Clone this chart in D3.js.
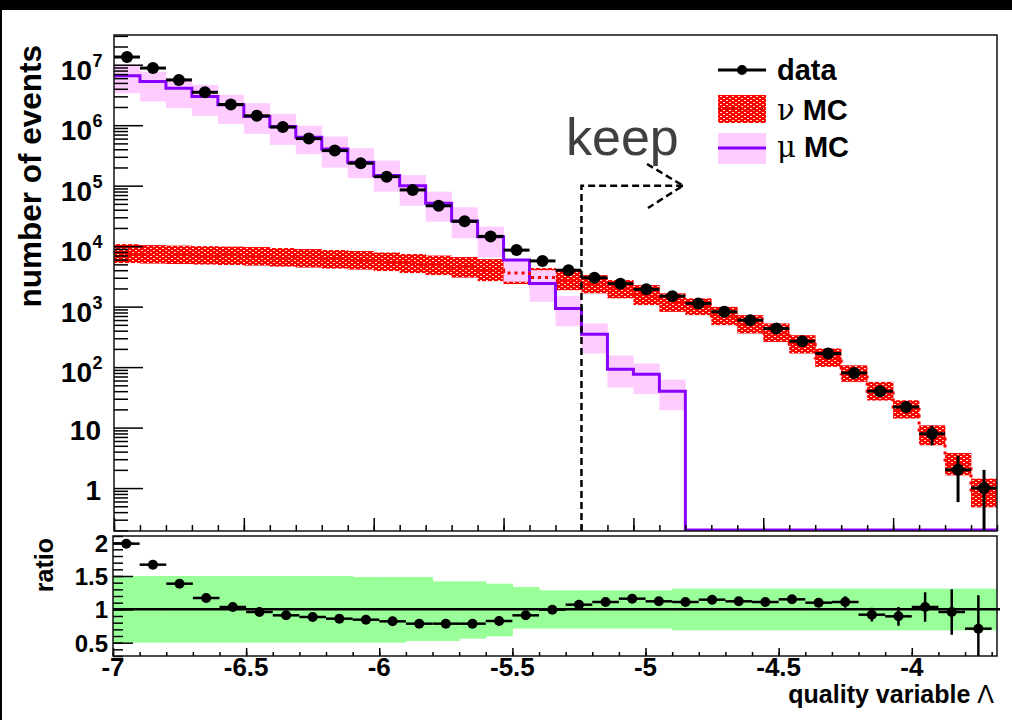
<!DOCTYPE html>
<html><head><meta charset="utf-8">
<script src="https://cdn.jsdelivr.net/npm/d3@7/dist/d3.min.js"></script>
<style>
html,body{margin:0;padding:0;background:#fff;}
svg{display:block;}
text{font-family:"Liberation Sans",Arial,Helvetica,sans-serif;}
</style></head>
<body>
<script>
// ---------------- data ----------------
const binCenters = [-6.95,-6.85,-6.75,-6.65,-6.55,-6.45,-6.35,-6.25,-6.15,-6.05,-5.95,-5.85,-5.75,-5.65,-5.55,-5.45,-5.35,-5.25,-5.15,-5.05,-4.95,-4.85,-4.75,-4.65,-4.55,-4.45,-4.35,-4.25,-4.15,-4.05,-3.95,-3.85,-3.75,-3.65];
const binWidth = 0.1;

const dataCounts = [1.34e7,8.8e6,5.6e6,3.5e6,2.2e6,1.43e6,9.3e5,6.0e5,3.8e5,2.35e5,1.41e5,8.5e4,4.65e4,2.57e4,1.45e4,8.6e3,5.7e3,4.0e3,3.0e3,2.4e3,1.93e3,1.49e3,1.13e3,820,597,435,268,168,80,40,21.9,7.9,2.0,1.0];

const muMC   = [6.6e6,5.27e6,4.1e6,2.98e6,2.17e6,1.39e6,9.5e5,6.3e5,4.05e5,2.44e5,1.47e5,1.0e5,5.1e4,2.6e4,1.43e4,5.9e3,2.42e3,933,351,92,76,40,0,0,0,0,0,0,0,0,0,0,0,0];
const muLo   = [3.39e6,2.46e6,1.91e6,1.43e6,1.05e6,7.2e5,4.72e5,3.31e5,1.99e5,1.33e5,7.96e4,4.67e4,2.54e4,1.35e4,6.5e3,2.58e3,1.2e3,475,168,46,36,19.3];
const muHi   = [9.95e6,7.7e6,6.0e6,4.65e6,3.18e6,2.31e6,1.54e6,9.8e5,6.5e5,4.16e5,2.6e5,1.5e5,7.96e4,4.39e4,2.1e4,5.9e3,4.0e3,1.49e3,527,155,115,62];

const nuMC   = [7530,7320,7180,7040,6930,6790,6530,6290,6060,5830,5510,5150,4820,4460,4020,3590,3020,2740,2350,1940,1550,1170,995,700,510,371,238,143,78,40,20,7.5,2.5,0.83];
const nuLo   = [5250,5150,5060,4960,4870,4770,4590,4420,4260,4100,3870,3590,3320,3020,2640,2360,2100,1870,1660,1370,1060,820,723,494,360,261,168,101,57,28,14.1,5.1,1.62,0.48];
const nuHi   = [10800,10400,10200,10000,9850,9660,9300,8950,8620,8300,7840,7400,6990,6600,6110,5450,4340,4020,3320,2750,2270,1660,1370,993,723,527,337,203,107,57,28.3,10.9,3.8,1.43];

const ratioVals = [1.985,1.67,1.385,1.17,1.035,0.96,0.91,0.885,0.86,0.845,0.82,0.785,0.785,0.785,0.825,0.91,0.995,1.07,1.11,1.16,1.12,1.11,1.145,1.12,1.11,1.15,1.10,1.11,0.92,0.895,1.035,0.96,0.71];
const greenHi = [1.5,1.5,1.5,1.5,1.5,1.5,1.5,1.5,1.5,1.485,1.485,1.485,1.42,1.42,1.385,1.335,1.285,1.285,1.285,1.285,1.285,1.31,1.31,1.31,1.31,1.31,1.31,1.31,1.31,1.31,1.31,1.31,1.31,1.31];
const greenLo = [0.5,0.5,0.5,0.5,0.5,0.5,0.5,0.5,0.5,0.5,0.5,0.525,0.525,0.56,0.595,0.71,0.71,0.71,0.71,0.71,0.71,0.685,0.685,0.685,0.685,0.685,0.685,0.685,0.685,0.685,0.685,0.685,0.685,0.685];

const yDecades = [1,10,100,1e3,1e4,1e5,1e6,1e7];
const yDecadeLabels = [["1",""],["10",""],["10","2"],["10","3"],["10","4"],["10","5"],["10","6"],["10","7"]];
const ratioTicks = [0.5,1,1.5,2];
const ratioTickLabels = ["0.5","1","1.5","2"];
const xMajor = [-7,-6.5,-6,-5.5,-5,-4.5,-4];
const xMajorLabels = ["-7","-6.5","-6","-5.5","-5","-4.5","-4"];
const cutValue = -5.2;

// ---------------- layout ----------------
const W = 1012, H = 720;
const UP = {l:114, r:997, t:35, b:531};
const LO = {l:113, r:997, t:536, b:656};
const xU = d3.scaleLinear([-7,-3.6],[UP.l,UP.r]);
const yU = d3.scaleLog([0.195,3.1e7],[UP.b,UP.t]);
const xL = d3.scaleLinear([-7,-3.68],[LO.l,LO.r]);
const yL = d3.scaleLinear([0.3,2.1],[LO.b,LO.t]);

const PURPLE = "#8a00ff", PINK = "#ffccff", GREEN = "#99ff99", RED = "#ff0000";

const svg = d3.select("body").append("svg").attr("width",W).attr("height",H);
svg.append("rect").attr("width",W).attr("height",H).attr("fill","#fff");
svg.append("rect").attr("x",0).attr("y",0).attr("width",W).attr("height",10).attr("fill","#000");
svg.append("rect").attr("x",0).attr("y",0).attr("width",2).attr("height",H).attr("fill","#000");

const defs = svg.append("defs");
const pat = defs.append("pattern").attr("id","hatch").attr("width",6).attr("height",4)
  .attr("patternUnits","userSpaceOnUse").attr("shape-rendering","crispEdges");
pat.append("rect").attr("x",0).attr("y",0).attr("width",6).attr("height",4).attr("fill",RED);
pat.append("rect").attr("x",0).attr("y",0).attr("width",2).attr("height",1).attr("fill","#ffdede");
pat.append("rect").attr("x",3).attr("y",2).attr("width",2).attr("height",1).attr("fill","#ffdede");
defs.append("clipPath").attr("id","clipU").append("rect").attr("x",UP.l).attr("y",UP.t).attr("width",UP.r-UP.l).attr("height",UP.b-UP.t);
defs.append("clipPath").attr("id","clipL").append("rect").attr("x",LO.l).attr("y",LO.t).attr("width",LO.r-LO.l).attr("height",LO.b-LO.t);

// ---------------- upper panel ----------------
const gU = svg.append("g").attr("clip-path","url(#clipU)");
// nu MC band (hatched)
gU.selectAll("rect.nu").data(binCenters).join("rect").attr("class","nu")
  .attr("x",c=>xU(c-binWidth/2)).attr("width",c=>xU(c+binWidth/2)-xU(c-binWidth/2)+0.3)
  .attr("y",(c,i)=>yU(nuHi[i])).attr("height",(c,i)=>yU(nuLo[i])-yU(nuHi[i]))
  .attr("fill","url(#hatch)");
// mu MC band
gU.selectAll("rect.mu").data(muLo).join("rect").attr("class","mu")
  .attr("x",(d,i)=>xU(binCenters[i]-binWidth/2)).attr("width",(d,i)=>xU(binCenters[i]+binWidth/2)-xU(binCenters[i]-binWidth/2)+0.3)
  .attr("y",(d,i)=>yU(muHi[i])).attr("height",(d,i)=>yU(muLo[i])-yU(muHi[i]))
  .attr("fill",PINK);

function stepPoints(vals, xs, ys, floorY){
  const pts = [];
  vals.forEach((v,i)=>{
    const y = v>0 ? ys(v) : floorY;
    pts.push([xs(binCenters[i]-binWidth/2), y]);
    pts.push([xs(binCenters[i]+binWidth/2), y]);
  });
  return pts;
}
const line = d3.line();

// axes (upper)
function styleAxis(g){
  g.selectAll("path.domain").remove();
  g.selectAll("text").remove();
  g.selectAll("line").attr("stroke","#000").attr("stroke-width",1.5);
}
const minorLog = [];
[-1,0,1,2,3,4,5,6,7].forEach(k=>{ for(let m=2;m<=9;m++){ const v=m*Math.pow(10,k); if(v>0.195 && v<3.1e7) minorLog.push(v);} });
svg.append("g").attr("transform",`translate(${UP.l},0)`).call(d3.axisLeft(yU).tickValues(yDecades).tickSize(-29).tickSizeOuter(0)).call(styleAxis);
svg.append("g").attr("transform",`translate(${UP.l},0)`).call(d3.axisLeft(yU).tickValues(minorLog).tickSize(-14).tickSizeOuter(0)).call(styleAxis);
const xMinor = d3.range(-70,-35).map(v=>v/10);
svg.append("g").attr("transform",`translate(0,${UP.b})`).call(d3.axisBottom(xU).tickValues(xMajor).tickSize(-13).tickSizeOuter(0)).call(styleAxis);
svg.append("g").attr("transform",`translate(0,${UP.b})`).call(d3.axisBottom(xU).tickValues(xMinor).tickSize(-6).tickSizeOuter(0)).call(styleAxis);
svg.append("rect").attr("x",UP.l).attr("y",UP.t).attr("width",UP.r-UP.l).attr("height",UP.b-UP.t)
  .attr("fill","none").attr("stroke","#111").attr("stroke-width",1.5);

// mu MC line
gU.append("path").attr("d",line(stepPoints(muMC,xU,yU,UP.b-1))).attr("fill","none").attr("stroke",PURPLE).attr("stroke-width",3);
// nu MC dotted line
gU.append("path").attr("d",line(stepPoints(nuMC,xU,yU,UP.b))).attr("fill","none").attr("stroke",RED).attr("stroke-width",3).attr("stroke-dasharray","3,4");

// cut line + arrow
const cutX = xU(cutValue);
const cutY = yU(1e5);
svg.append("path").attr("d",`M${cutX},${UP.b} L${cutX},${cutY} L683,${cutY}`).attr("fill","none")
  .attr("stroke","#000").attr("stroke-width",2.5).attr("stroke-dasharray","7,4");
svg.append("path").attr("d",`M647,164 L683,${cutY} L648,208`).attr("fill","none")
  .attr("stroke","#000").attr("stroke-width",2.5).attr("stroke-dasharray","7,4");
svg.append("text").attr("x",566).attr("y",155).attr("font-size",52).attr("fill","#404040").text("keep");

// data points
const gD = gU.append("g");
dataCounts.forEach((v,i)=>{
  const c = binCenters[i], err = Math.sqrt(v);
  gD.append("line").attr("x1",xU(c-binWidth/2)).attr("x2",xU(c+binWidth/2)).attr("y1",yU(v)).attr("y2",yU(v)).attr("stroke","#000").attr("stroke-width",3);
  gD.append("line").attr("x1",xU(c)).attr("x2",xU(c)).attr("y1",yU(v+err)).attr("y2",yU(Math.max(v-err,0.05))).attr("stroke","#000").attr("stroke-width",3);
  gD.append("circle").attr("cx",xU(c)).attr("cy",yU(v)).attr("r",6).attr("fill","#000");
});

// upper y labels
yDecades.forEach((v,i)=>{
  const [base,exp] = yDecadeLabels[i];
  const y = yU(v);
  if(!exp){
    svg.append("text").attr("x",101).attr("y",y+12).attr("text-anchor","end").attr("font-size",28).attr("font-weight","bold").text(base);
  } else {
    svg.append("text").attr("x",92).attr("y",y+15).attr("text-anchor","end").attr("font-size",28).attr("font-weight","bold").text(base);
    svg.append("text").attr("x",92.5).attr("y",y+2).attr("text-anchor","start").attr("font-size",18).attr("font-weight","bold").text(exp);
  }
});
svg.append("text").attr("transform","translate(41,45) rotate(-90)").attr("text-anchor","end")
  .attr("font-size",31.5).attr("font-weight","bold").text("number of events");

// legend
const lg = svg.append("g");
lg.append("line").attr("x1",718).attr("x2",766).attr("y1",70).attr("y2",70).attr("stroke","#000").attr("stroke-width",3);
lg.append("circle").attr("cx",742).attr("cy",70).attr("r",5).attr("fill","#000");
lg.append("text").attr("x",777).attr("y",80).attr("font-size",29).attr("font-weight","bold").text("data");
lg.append("rect").attr("x",718).attr("y",95).attr("width",48).attr("height",28).attr("fill","url(#hatch)");
lg.append("line").attr("x1",718).attr("x2",766).attr("y1",109).attr("y2",109).attr("stroke","#cc0000").attr("stroke-width",3).attr("stroke-dasharray","3,4");
const t2 = lg.append("text").attr("x",777).attr("y",120).attr("font-size",29).attr("font-weight","bold");
t2.append("tspan").attr("font-family","'DejaVu Serif','Liberation Serif',serif").attr("font-weight","normal").attr("font-size",29).text("ν");
t2.append("tspan").text(" MC");
lg.append("rect").attr("x",718).attr("y",133).attr("width",48).attr("height",31).attr("fill",PINK);
lg.append("line").attr("x1",718).attr("x2",766).attr("y1",148).attr("y2",148).attr("stroke",PURPLE).attr("stroke-width",3);
const t3 = lg.append("text").attr("x",777).attr("y",157).attr("font-size",29).attr("font-weight","bold");
t3.append("tspan").attr("font-family","'DejaVu Serif','Liberation Serif',serif").attr("font-weight","normal").attr("font-size",29).text("μ");
t3.append("tspan").text(" MC");

// ---------------- lower panel ----------------
const gL = svg.append("g").attr("clip-path","url(#clipL)");
gL.selectAll("rect.g").data(greenHi).join("rect").attr("class","g")
  .attr("x",(d,i)=>xL(binCenters[i]-binWidth/2)).attr("width",(d,i)=>xL(binCenters[i]+binWidth/2)-xL(binCenters[i]-binWidth/2)+0.5)
  .attr("y",(d,i)=>yL(greenHi[i])).attr("height",(d,i)=>yL(greenLo[i])-yL(greenHi[i]))
  .attr("fill",GREEN);

const ratioMinor = d3.range(3,22).map(v=>v/10);
svg.append("g").attr("transform",`translate(${LO.l},0)`).call(d3.axisLeft(yL).tickValues(ratioTicks).tickSize(-20).tickSizeOuter(0)).call(styleAxis);
svg.append("g").attr("transform",`translate(${LO.l},0)`).call(d3.axisLeft(yL).tickValues(ratioMinor).tickSize(-10).tickSizeOuter(0)).call(styleAxis);
const xMinorL = d3.range(-70,-36).map(v=>v/10);
svg.append("g").attr("transform",`translate(0,${LO.b})`).call(d3.axisBottom(xL).tickValues(xMajor).tickSize(-8).tickSizeOuter(0)).call(styleAxis);
svg.append("g").attr("transform",`translate(0,${LO.b})`).call(d3.axisBottom(xL).tickValues(xMinorL).tickSize(-4).tickSizeOuter(0)).call(styleAxis);
svg.append("rect").attr("x",LO.l).attr("y",LO.t).attr("width",LO.r-LO.l).attr("height",LO.b-LO.t)
  .attr("fill","none").attr("stroke","#111").attr("stroke-width",1.5);

svg.append("line").attr("x1",LO.l).attr("x2",1000).attr("y1",yL(1)).attr("y2",yL(1)).attr("stroke","#000").attr("stroke-width",2.5);

ratioVals.forEach((v,i)=>{
  const c = binCenters[i], err = v/Math.sqrt(dataCounts[i]);
  gL.append("line").attr("x1",xL(c-binWidth/2)).attr("x2",xL(c+binWidth/2)).attr("y1",yL(v)).attr("y2",yL(v)).attr("stroke","#000").attr("stroke-width",2.5);
  gL.append("line").attr("x1",xL(c)).attr("x2",xL(c)).attr("y1",yL(v+err)).attr("y2",yL(v-err)).attr("stroke","#000").attr("stroke-width",2.5);
  gL.append("circle").attr("cx",xL(c)).attr("cy",yL(v)).attr("r",5).attr("fill","#000");
});

ratioTicks.forEach((v,i)=>{
  svg.append("text").attr("x",108).attr("y",yL(v)+9).attr("text-anchor","end").attr("font-size",24).attr("font-weight","bold").text(ratioTickLabels[i]);
});
xMajor.forEach((v,i)=>{
  svg.append("text").attr("x",xL(v)).attr("y",676).attr("text-anchor","middle").attr("font-size",26).attr("font-weight","bold").text(xMajorLabels[i]);
});
svg.append("text").attr("transform","translate(53,538) rotate(-90)").attr("text-anchor","end")
  .attr("font-size",25).attr("font-weight","bold").text("ratio");
const xt = svg.append("text").attr("x",994).attr("y",703).attr("text-anchor","end").attr("font-size",25).attr("font-weight","bold");
xt.append("tspan").text("quality variable ");
xt.append("tspan").attr("font-weight","normal").text("Λ");
</script>
</body></html>
